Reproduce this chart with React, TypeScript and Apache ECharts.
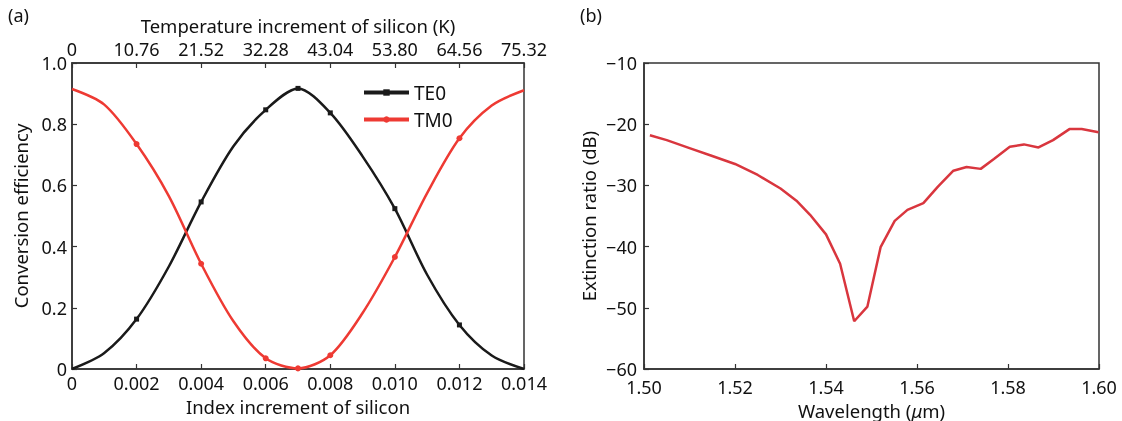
import React, { useEffect, useRef } from "react";
import * as echarts from "echarts";

// Panel (a)
const indexX = [0, 0.001, 0.002, 0.003, 0.004, 0.005, 0.006, 0.007, 0.008, 0.009, 0.010, 0.011, 0.012, 0.013, 0.014];
const te0 = [0, 0.052, 0.163, 0.335, 0.546, 0.728, 0.847, 0.917, 0.837, 0.695, 0.524, 0.308, 0.144, 0.044, 0];
const tm0 = [0.915, 0.864, 0.735, 0.565, 0.344, 0.156, 0.035, 0.002, 0.045, 0.183, 0.366, 0.575, 0.754, 0.861, 0.911];
const markerX = [0.002, 0.004, 0.006, 0.007, 0.008, 0.010, 0.012];
const tempLabels = ["0", "10.76", "21.52", "32.28", "43.04", "53.80", "64.56", "75.32"];
const indexLabels = ["0", "0.002", "0.004", "0.006", "0.008", "0.010", "0.012", "0.014"];

// Panel (b)
const wavelength = [1.5013, 1.505, 1.51, 1.515, 1.52, 1.525, 1.53, 1.5335, 1.5365, 1.54, 1.5431, 1.5462, 1.5491, 1.552, 1.5551, 1.5579, 1.5614, 1.5646, 1.568, 1.5709, 1.574, 1.5769, 1.5804, 1.5835, 1.5867, 1.5899, 1.5935, 1.5962, 1.5999];
const extinction = [-21.8, -22.6, -23.9, -25.2, -26.5, -28.3, -30.5, -32.5, -34.8, -38.0, -42.8, -52.2, -49.8, -40.1, -35.8, -34.0, -32.9, -30.2, -27.6, -27.0, -27.3, -25.7, -23.7, -23.3, -23.8, -22.6, -20.8, -20.8, -21.3];

const FONT = "Noto Sans";
const AX = "#333333";

function isMarker(x: number) {
  return markerX.some((m) => Math.abs(m - x) < 1e-9);
}

export default function App() {
  const ref = useRef<HTMLDivElement>(null);
  useEffect(() => {
    if (!ref.current) return;
    const chart = echarts.init(ref.current, undefined, { renderer: "svg" });
    const axisCommon = {
      axisLine: { show: true, lineStyle: { color: AX, width: 1.5 } },
      axisTick: { show: true, inside: true, length: 5, lineStyle: { color: AX, width: 1.2 } },
      splitLine: { show: false },
      axisLabel: { color: "#111", fontSize: 18, fontFamily: FONT, margin: 5 },
      nameTextStyle: { color: "#111", fontSize: 18.5, fontFamily: FONT },
    };
    const mkData = (ys: number[]) =>
      indexX.map((x, i) => (isMarker(x) ? { value: [x, ys[i]] } : { value: [x, ys[i]], symbol: "none" }));
    chart.setOption({
      animation: false,
      textStyle: { fontFamily: FONT },
      grid: [
        { left: 72, right: 598, top: 63, bottom: 52, show: true, borderColor: AX, borderWidth: 1.5, outerBoundsMode: "none" },
        { left: 644, right: 23, top: 63, bottom: 52, show: true, borderColor: AX, borderWidth: 1.5, outerBoundsMode: "none" },
      ],
      xAxis: [
        {
          ...axisCommon,
          gridIndex: 0,
          type: "value",
          min: 0,
          max: 0.014,
          interval: 0.002,
          position: "bottom",
          name: "Index increment of silicon",
          nameLocation: "middle",
          nameGap: 27,
          axisLabel: { ...axisCommon.axisLabel, formatter: (v: number) => indexLabels[Math.round(v / 0.002)] },
        },
        {
          ...axisCommon,
          gridIndex: 0,
          type: "value",
          min: 0,
          max: 0.014,
          interval: 0.002,
          position: "top",
          name: "Temperature increment of silicon (K)",
          nameLocation: "middle",
          nameGap: 27,
          axisLabel: { ...axisCommon.axisLabel, formatter: (v: number) => tempLabels[Math.round(v / 0.002)] },
        },
        {
          ...axisCommon,
          gridIndex: 1,
          type: "value",
          min: 1.5,
          max: 1.6,
          interval: 0.02,
          name: "Wavelength ({i|μ}m)",
          nameLocation: "middle",
          nameGap: 26,
          nameTextStyle: {
            ...axisCommon.nameTextStyle,
            lineHeight: 20,
            rich: { i: { fontStyle: "italic", fontSize: 18.5, lineHeight: 20, fontFamily: FONT, color: "#111" } },
          },
          axisLabel: { ...axisCommon.axisLabel, margin: 9, lineHeight: 18, formatter: (v: number) => v.toFixed(2) },
        },
      ],
      yAxis: [
        {
          ...axisCommon,
          gridIndex: 0,
          type: "value",
          min: 0,
          max: 1,
          interval: 0.2,
          name: "Conversion efficiency",
          nameLocation: "middle",
          nameGap: 42,
          axisLabel: { ...axisCommon.axisLabel, formatter: (v: number) => (v === 0 ? "0" : v.toFixed(1)) },
        },
        {
          ...axisCommon,
          gridIndex: 1,
          type: "value",
          min: -60,
          max: -10,
          interval: 10,
          name: "Extinction ratio (dB)",
          nameLocation: "middle",
          nameGap: 46,
          axisLabel: { ...axisCommon.axisLabel, margin: 7, lineHeight: 18, formatter: (v: number) => (v < 0 ? "\u2212" + Math.abs(v) : String(v)) },
        },
      ],
      legend: {
        orient: "vertical",
        left: 357,
        top: 77,
        itemWidth: 45,
        itemHeight: 8,
        itemGap: 6,
        lineStyle: { width: 4 },
        textStyle: { fontSize: 19, fontFamily: FONT, color: "#111", lineHeight: 21 },
        data: ["TE0", "TM0"],
      },
      series: [
        {
          name: "TE0",
          type: "line",
          xAxisIndex: 0,
          yAxisIndex: 0,
          smooth: 0.3,
          symbol: "rect",
          symbolSize: 5,
          showAllSymbol: true,
          lineStyle: { color: "#1a1a1a", width: 2.5 },
          itemStyle: { color: "#1a1a1a" },
          data: mkData(te0),
        },
        {
          name: "TM0",
          type: "line",
          xAxisIndex: 0,
          yAxisIndex: 0,
          smooth: 0.3,
          symbol: "circle",
          symbolSize: 6,
          showAllSymbol: true,
          lineStyle: { color: "#ee3a33", width: 2.5 },
          itemStyle: { color: "#ee3a33" },
          data: mkData(tm0),
        },
        {
          name: "ER",
          type: "line",
          xAxisIndex: 2,
          yAxisIndex: 1,
          symbol: "none",
          lineStyle: { color: "#d9363e", width: 2.5 },
          data: wavelength.map((w, i) => [w, extinction[i]]),
        },
      ],
      graphic: [
        { type: "text", left: 8, top: 6, style: { text: "(a)", fontSize: 18, fontFamily: FONT, fill: "#111" } },
        { type: "text", left: 580, top: 6, style: { text: "(b)", fontSize: 18, fontFamily: FONT, fill: "#111" } },
      ],
    });
    return () => chart.dispose();
  }, []);
  return <div ref={ref} style={{ position: "fixed", left: 0, top: 0, width: 1122, height: 421 }} />;
}
